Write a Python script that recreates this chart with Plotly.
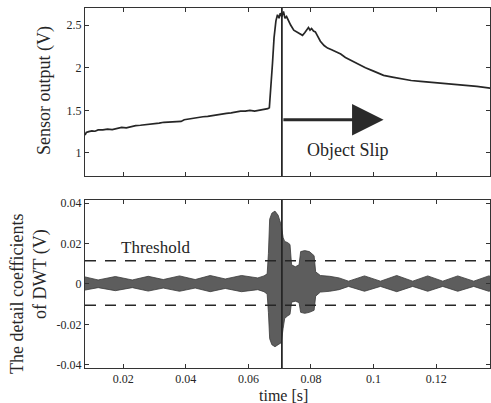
import plotly.graph_objects as go
from plotly.subplots import make_subplots

# ---- Top panel: sensor output ----
sensor_t = [0.0078, 0.0082, 0.0090, 0.0100, 0.0110, 0.0120, 0.0135, 0.0150, 0.0165, 0.0180,
            0.0195, 0.0210, 0.0225, 0.0240, 0.0255, 0.0270, 0.0285, 0.0300, 0.0315, 0.0330,
            0.0345, 0.0360, 0.0375, 0.0385, 0.0395, 0.0410, 0.0425, 0.0440, 0.0455, 0.0470,
            0.0485, 0.0500, 0.0515, 0.0530, 0.0545, 0.0560, 0.0575, 0.0590, 0.0605, 0.0620,
            0.0635, 0.0650, 0.0662, 0.0667, 0.0672, 0.0677, 0.0682, 0.0688, 0.0693, 0.0698,
            0.0702, 0.0707, 0.0712, 0.0717, 0.0722, 0.0727, 0.0735, 0.0745, 0.0757, 0.0765,
            0.0773, 0.0780, 0.0787, 0.0792, 0.0797, 0.0802, 0.0808, 0.0814, 0.0820, 0.0830,
            0.0842, 0.0853, 0.0866, 0.0878, 0.0895, 0.0910, 0.0930, 0.0950, 0.0974, 0.1000,
            0.1032, 0.1060, 0.1090, 0.1120, 0.1150, 0.1180, 0.1210, 0.1240, 0.1270, 0.1300,
            0.1330, 0.1374]
sensor_v = [1.21, 1.24, 1.25, 1.26, 1.255, 1.27, 1.27, 1.28, 1.275, 1.29,
            1.30, 1.295, 1.31, 1.32, 1.325, 1.33, 1.335, 1.345, 1.35, 1.36,
            1.365, 1.37, 1.375, 1.37, 1.39, 1.40, 1.41, 1.42, 1.425, 1.43,
            1.44, 1.45, 1.46, 1.465, 1.47, 1.48, 1.49, 1.49, 1.50, 1.49,
            1.50, 1.505, 1.52, 1.53, 1.75, 2.05, 2.35, 2.55, 2.62, 2.58,
            2.64, 2.60, 2.66, 2.58, 2.60, 2.56, 2.50, 2.44, 2.41, 2.40,
            2.38, 2.41, 2.45, 2.47, 2.44, 2.46, 2.43, 2.42, 2.38, 2.31,
            2.26, 2.23, 2.21, 2.19, 2.16, 2.12, 2.08, 2.05, 2.00, 1.96,
            1.91, 1.89, 1.87, 1.85, 1.84, 1.83, 1.82, 1.815, 1.80, 1.79,
            1.78, 1.76]

# ---- Bottom panel: DWT detail coefficient envelope (upper / lower) ----
dwt_t = [0.0078, 0.0120, 0.0175, 0.0229, 0.0280, 0.0328, 0.0380, 0.0430, 0.0478, 0.0526,
         0.0578, 0.0630, 0.0650, 0.0660, 0.0664, 0.0668, 0.0675, 0.0685, 0.0695, 0.0705,
         0.0711, 0.0716, 0.0725, 0.0733, 0.0738, 0.0750, 0.0762, 0.0767, 0.0780, 0.0795,
         0.0810, 0.0815, 0.0830, 0.0860, 0.0890, 0.0920, 0.0971, 0.1022, 0.1074, 0.1125,
         0.1173, 0.1221, 0.1269, 0.1320, 0.1368, 0.1374]
dwt_upper = [0.0035, 0.0020, 0.0037, 0.0020, 0.0038, 0.0022, 0.0040, 0.0022, 0.0042, 0.0025,
             0.0042, 0.0030, 0.0040, 0.0050, 0.0150, 0.0320, 0.0350, 0.0360, 0.0340, 0.0290,
             0.0230, 0.0210, 0.0205, 0.0195, 0.0095, 0.0085, 0.0095, 0.0160, 0.0165, 0.0160,
             0.0140, 0.0060, 0.0042, 0.0038, 0.0030, 0.0014, 0.0040, 0.0014, 0.0042, 0.0014,
             0.0040, 0.0014, 0.0040, 0.0014, 0.0040, 0.0038]
dwt_lower = [-0.0030, -0.0018, -0.0033, -0.0018, -0.0035, -0.0020, -0.0036, -0.0020, -0.0038, -0.0022,
             -0.0038, -0.0028, -0.0038, -0.0050, -0.0140, -0.0270, -0.0300, -0.0310, -0.0300, -0.0290,
             -0.0220, -0.0170, -0.0158, -0.0150, -0.0090, -0.0085, -0.0092, -0.0140, -0.0145, -0.0140,
             -0.0130, -0.0060, -0.0040, -0.0036, -0.0028, -0.0012, -0.0036, -0.0012, -0.0038, -0.0012,
             -0.0036, -0.0012, -0.0036, -0.0012, -0.0036, -0.0034]

threshold_hi = 0.0115
threshold_lo = -0.0105
slip_time = 0.0707

x_range = [0.0078, 0.1372]
x_ticks = [0.02, 0.04, 0.06, 0.08, 0.1, 0.12]
x_ticktext = ["0.02", "0.04", "0.06", "0.08", "0.1", "0.12"]
top_ticks = [1, 1.5, 2, 2.5]
top_ticktext = ["1", "1.5", "2", "2.5"]
bot_ticks = [-0.04, -0.02, 0, 0.02, 0.04]
bot_ticktext = ["-0.04", "-0.02", "0", "0.02", "0.04"]

INK = "#262626"
SERIF = "Liberation Serif, Times New Roman, serif"

fig = make_subplots(rows=2, cols=1)

fig.add_trace(go.Scatter(x=sensor_t, y=sensor_v, mode="lines",
                         line=dict(color=INK, width=1.7), showlegend=False), row=1, col=1)

fig.add_trace(go.Scatter(x=dwt_t, y=dwt_upper, mode="lines",
                         line=dict(color="#3a3a3a", width=0.8), showlegend=False), row=2, col=1)
fig.add_trace(go.Scatter(x=dwt_t, y=dwt_lower, mode="lines", fill="tonexty",
                         fillcolor="rgba(65,65,65,0.85)",
                         line=dict(color="#3a3a3a", width=0.8), showlegend=False), row=2, col=1)

for yv in [threshold_hi, threshold_lo]:
    fig.add_trace(go.Scatter(x=x_range, y=[yv, yv], mode="lines",
                             line=dict(color=INK, width=1.5, dash="11px,9px"),
                             showlegend=False), row=2, col=1)

# vertical slip lines
fig.add_shape(type="line", xref="x", yref="y domain", x0=slip_time, x1=slip_time, y0=0, y1=1,
              line=dict(color=INK, width=1.8))
fig.add_shape(type="line", xref="x2", yref="y2 domain", x0=slip_time, x1=slip_time, y0=0, y1=1,
              line=dict(color=INK, width=1.8))

axis_common = dict(showline=True, mirror="ticks", linecolor="#333", linewidth=1,
                   ticks="inside", ticklen=4, tickcolor="#333", showgrid=False, zeroline=False,
                   tickfont=dict(family=SERIF, size=12, color=INK))

fig.update_layout(
    width=491, height=403,
    margin=dict(l=85, r=1, t=8, b=35),
    paper_bgcolor="white", plot_bgcolor="white",
    xaxis=dict(domain=[0, 1], range=x_range, tickvals=x_ticks, showticklabels=False, **axis_common),
    yaxis=dict(domain=[0.5333, 1], range=[0.73, 2.70], tickvals=top_ticks, ticktext=top_ticktext,
               **axis_common),
    xaxis2=dict(domain=[0, 1], range=x_range, tickvals=x_ticks, ticktext=x_ticktext, **axis_common),
    yaxis2=dict(domain=[0, 0.4667], range=[-0.0415, 0.0415], tickvals=bot_ticks,
                ticktext=bot_ticktext, **axis_common),
)

# arrow
fig.add_annotation(x=0.1032, y=1.39, ax=slip_time, ay=1.39, xref="x", yref="y",
                   axref="x", ayref="y", showarrow=True, arrowhead=2, arrowsize=2.1,
                   arrowwidth=3, arrowcolor="#2a2a2a", text="")
fig.add_annotation(x=0.0917, y=1.035, xref="x", yref="y", text="Object Slip", showarrow=False,
                   font=dict(family=SERIF, size=18, color=INK))
fig.add_annotation(x=0.0302, y=0.0178, xref="x2", yref="y2", text="Threshold", showarrow=False,
                   font=dict(family=SERIF, size=17, color=INK))

# axis titles
title_font = dict(family=SERIF, size=18, color=INK)
fig.add_annotation(xref="paper", yref="paper", x=(45 - 85) / 405, y=(368 - 91) / 360,
                   xanchor="center", yanchor="middle", text="Sensor output (V)",
                   textangle=-90, showarrow=False, font=title_font)
fig.add_annotation(xref="paper", yref="paper", x=(17 - 85) / 405, y=(368 - 294) / 360,
                   xanchor="center", yanchor="middle",
                   text="The detail coefficients", textangle=-90, showarrow=False, font=title_font)
fig.add_annotation(xref="paper", yref="paper", x=(40 - 85) / 405, y=(368 - 274) / 360,
                   xanchor="center", yanchor="middle",
                   text="of DWT (V)", textangle=-90, showarrow=False, font=title_font)
fig.add_annotation(xref="paper", yref="paper", x=(283 - 85) / 405, y=(368 - 395) / 360,
                   xanchor="center", yanchor="middle",
                   text="time [s]", showarrow=False, font=dict(family=SERIF, size=16, color=INK))

fig.write_html("out.html")
